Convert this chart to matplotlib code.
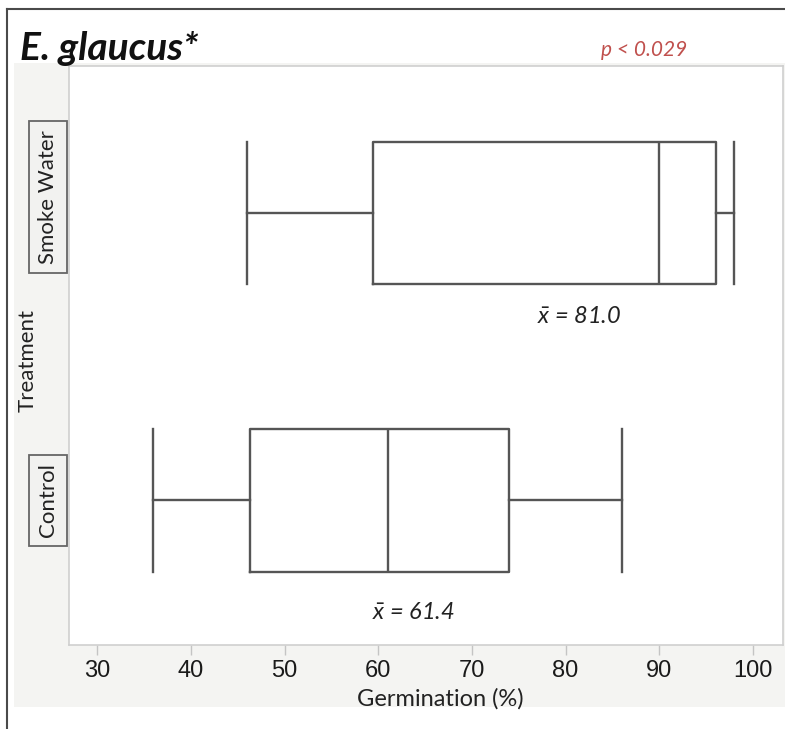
import matplotlib
matplotlib.use("Agg")
import matplotlib.pyplot as plt
from matplotlib.patches import Rectangle
from matplotlib.lines import Line2D

# box summary (germination %)
groups = ["Control", "Smoke Water"]
whisker_low = [36, 46]
q1 = [46.3, 59.4]
median = [61, 90]
q3 = [74, 96]
whisker_high = [86, 98]
means = [61.4, 81.0]
xticks = [30, 40, 50, 60, 70, 80, 90, 100]

title = "E. glaucus*"
p_text = "p < 0.029"

plt.rcParams['font.family'] = ['Lato', 'DejaVu Sans']
plt.rcParams['mathtext.fontset'] = 'custom'
plt.rcParams['mathtext.it'] = 'Lato:italic'
plt.rcParams['mathtext.rm'] = 'Lato'

W, H = 785, 729
fig = plt.figure(figsize=(W / 100, H / 100), dpi=100)
fig.patch.set_facecolor("white")

def fx(px):
    return px / W

def fy(py):
    return 1 - py / H

# grey panel behind the graph and the outer frame
fig.patches.append(Rectangle((fx(14), fy(707)), fx(785) - fx(14), fy(63) - fy(707),
                             transform=fig.transFigure, facecolor="#f4f4f2",
                             edgecolor="none", zorder=-5))
fig.lines.append(Line2D([fx(7), fx(785)], [fy(9), fy(9)], transform=fig.transFigure,
                        color="#4a4a4a", lw=1.5))
fig.lines.append(Line2D([fx(7), fx(7)], [fy(9), fy(729)], transform=fig.transFigure,
                        color="#4a4a4a", lw=1.5))

ax = fig.add_axes([fx(69), fy(645), fx(783) - fx(69), fy(66) - fy(645)])
ax.set_facecolor("white")
ax.set_zorder(1)

stats = []
for i in range(len(groups)):
    stats.append(dict(whislo=whisker_low[i], q1=q1[i], med=median[i], q3=q3[i],
                      whishi=whisker_high[i], mean=means[i], fliers=[], label=groups[i]))

line_kw = dict(color="#555555", lw=1.7)
ax.bxp(stats, positions=range(len(groups)), widths=0.495, capwidths=0.495,
       orientation='horizontal', showmeans=False,
       boxprops=line_kw, whiskerprops=line_kw, capprops=line_kw,
       medianprops=line_kw)

ax.set_xlim(27.0, 103.2)
ax.set_ylim(-0.503, 1.511)
ax.set_xticks(xticks)
ax.set_xticklabels([str(t) for t in xticks])
ax.set_yticks([])
ax.tick_params(axis="x", direction="out", length=7, width=1, color="#c4c4c4",
               pad=4, labelcolor="#1a1a1a", labelsize=17)
for lbl in ax.get_xticklabels():
    lbl.set_fontfamily(["Liberation Sans", "DejaVu Sans"])
for s in ax.spines.values():
    s.set_color("#cfcfcf")
    s.set_linewidth(1.2)

ax.set_xlabel("Germination (%)", fontsize=17, color="#222222", labelpad=4)
ax.xaxis.set_label_coords(0.52, -0.075)

# mean annotations under each box
label_dx = [2.4, 0.4]
label_dy = [-0.39, -0.36]
for i in range(len(groups)):
    ax.text(means[i] + label_dx[i], i + label_dy[i],
            r"$\bar{x}$ = %.1f" % means[i], style="italic", fontsize=17,
            ha="center", va="center", color="#222222")

# category labels in framed boxes on the left
cat_dy = [0.0, 0.055]
for i, g in enumerate(groups):
    ax.text(-0.029, i + cat_dy[i], g, transform=ax.get_yaxis_transform(),
            rotation=90, ha="center", va="center", fontsize=16, color="#222222",
            bbox=dict(boxstyle="square,pad=0.4", facecolor="#f2f2f0",
                      edgecolor="#666666", lw=1.3))

fig.text(fx(28), fy(360), "Treatment", rotation=90, ha="center", va="center",
         fontsize=16, color="#222222")

fig.text(fx(20), fy(49), title, fontsize=28, fontweight="bold", style="italic",
         ha="left", va="center", color="#111111")
fig.text(fx(644), fy(50), p_text, fontsize=15, style="italic", color="#c0504d",
         ha="center", va="center")

fig.savefig("out.png", dpi=100)
